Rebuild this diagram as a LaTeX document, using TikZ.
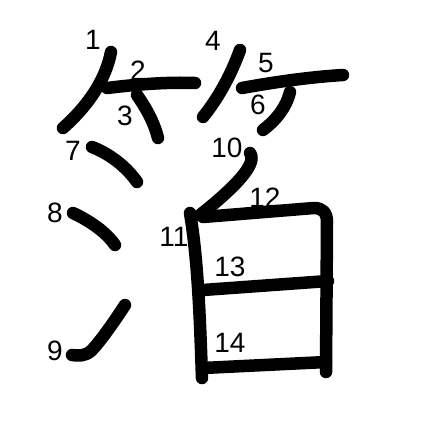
\documentclass[tikz,border=0pt]{standalone}
\usepackage{fontspec}
\setmainfont{Liberation Sans}
\usepackage{tikz}

\begin{document}
\begin{tikzpicture}[
				x=1pt,y=-1pt,
				stroke/.style={draw=black,line width=12.5pt,line cap=round,line join=round},
				num/.style={font=\fontsize{28}{28}\selectfont,inner sep=0pt}]

				\useasboundingbox[fill=white] (0,0) rectangle (447,447);

				% bamboo radical
				\draw[stroke] (111,52) .. controls (106,78) and (90,104) .. (63,128);
				\draw[stroke] (107,88) .. controls (140,84) and (168,82) .. (195,83);
				\draw[stroke] (137,95) .. controls (146,108) and (154,122) .. (158,138);
				\draw[stroke] (240,50) .. controls (232,72) and (220,96) .. (203,117);
				\draw[stroke] (242,88) .. controls (275,82) and (310,77) .. (343,75);
				\draw[stroke] (290,92) .. controls (286,108) and (276,120) .. (263,130);

				% water radical
				\draw[stroke] (92,147) .. controls (108,153) and (126,166) .. (137,182);
				\draw[stroke] (73,213) .. controls (90,221) and (106,232) .. (115,245);
				\draw[stroke] (125,305) .. controls (110,328) and (98,344) .. (91,351)
					.. controls (85,356) and (79,356) .. (72,355);

				% white
				\draw[stroke] (250,153) .. controls (258,164) and (234,188) .. (200,215);
				\draw[stroke] (190,213) .. controls (198,260) and (200,320) .. (202,378);
				\draw[stroke] (203,217) -- (314,208) .. controls (322,208) and (327,212) .. (327,222) -- (326,372);
				\draw[stroke] (203,290) -- (328,281);
				\draw[stroke] (203,368) -- (326,362);

				% stroke numbers
				\node[num] (n1) at (93,40) {1};
				\node[num] (n2) at (138,71) {2};
				\node[num] (n3) at (125,116) {3};
				\node[num] (n4) at (213,41) {4};
				\node[num] (n5) at (266,63) {5};
				\node[num] (n6) at (258,105) {6};
				\node[num] (n7) at (73,151) {7};
				\node[num] (n8) at (55,213) {8};
				\node[num] (n9) at (55,351) {9};
				\node[num] (n10) at (227,148) {10};
				\node[num] (n11) at (174,237) {11};
				\node[num] (n12) at (265,198) {12};
				\node[num] (n13) at (230,267) {13};
				\node[num] (n14) at (230,343) {14};
			\end{tikzpicture}
\end{document}
